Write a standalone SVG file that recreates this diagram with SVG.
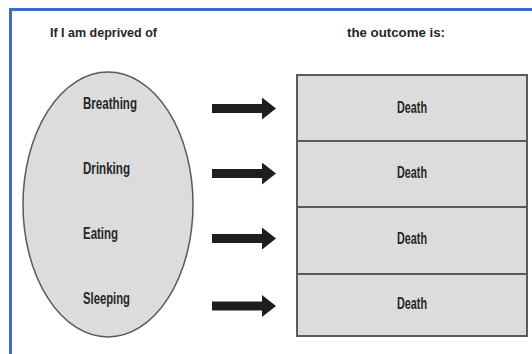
<svg xmlns="http://www.w3.org/2000/svg" width="532" height="354" viewBox="0 0 532 354">
  <style>
    .lbl { font-family: "Liberation Sans", Arial, sans-serif; font-weight: bold; fill: #262626; }
    .item { font-size: 16px; }
    .head { font-size: 13.5px; }
    .box { fill: #dcdcdc; stroke: #5a5a5a; stroke-width: 2; }
    .arrow { stroke: #1e1e1e; stroke-width: 9; fill: none; marker-end: url(#ah); }
  </style>
  <defs>
    <marker id="ah" markerUnits="userSpaceOnUse" markerWidth="14" markerHeight="22" refX="0" refY="11" orient="auto" viewBox="0 0 14 22">
      <path d="M0,0 L14,11 L0,22 Z" fill="#1e1e1e"/>
    </marker>
  </defs>
  <rect x="0" y="0" width="532" height="354" fill="#ffffff"/>
  <rect id="frame" x="10.5" y="9.5" width="600" height="400" fill="none" stroke="#3a6cc2" stroke-width="3"/>

  <g id="headings">
    <text class="lbl head" x="50" y="37" textLength="107" lengthAdjust="spacingAndGlyphs">If I am deprived of</text>
    <text class="lbl head" x="347" y="37" textLength="98" lengthAdjust="spacingAndGlyphs">the outcome is:</text>
  </g>

  <g id="needs">
    <ellipse cx="108" cy="204.5" rx="85" ry="132.5" fill="#dcdcdc" stroke="#5a5a5a" stroke-width="1.5"/>
    <text class="lbl item" x="83" y="109" textLength="54" lengthAdjust="spacingAndGlyphs">Breathing</text>
    <text class="lbl item" x="83" y="174" textLength="47" lengthAdjust="spacingAndGlyphs">Drinking</text>
    <text class="lbl item" x="83" y="239" textLength="35" lengthAdjust="spacingAndGlyphs">Eating</text>
    <text class="lbl item" x="83" y="304" textLength="47" lengthAdjust="spacingAndGlyphs">Sleeping</text>
  </g>

  <g id="outcome1">
    <rect class="box" x="297" y="75" width="230" height="66"/>
    <text class="lbl item" x="397" y="113" textLength="30" lengthAdjust="spacingAndGlyphs">Death</text>
  </g>
  <g id="outcome2">
    <rect class="box" x="297" y="141" width="230" height="66"/>
    <text class="lbl item" x="397" y="178" textLength="30" lengthAdjust="spacingAndGlyphs">Death</text>
  </g>
  <g id="outcome3">
    <rect class="box" x="297" y="207" width="230" height="67"/>
    <text class="lbl item" x="397" y="244" textLength="30" lengthAdjust="spacingAndGlyphs">Death</text>
  </g>
  <g id="outcome4">
    <rect class="box" x="297" y="274" width="230" height="62"/>
    <text class="lbl item" x="397" y="309" textLength="30" lengthAdjust="spacingAndGlyphs">Death</text>
  </g>

  <g id="connectors">
    <line class="arrow" x1="212" y1="108.5" x2="262" y2="108.5"/>
    <line class="arrow" x1="212" y1="173.5" x2="262" y2="173.5"/>
    <line class="arrow" x1="212" y1="238.5" x2="262" y2="238.5"/>
    <line class="arrow" x1="212" y1="306" x2="262" y2="306"/>
  </g>
</svg>
